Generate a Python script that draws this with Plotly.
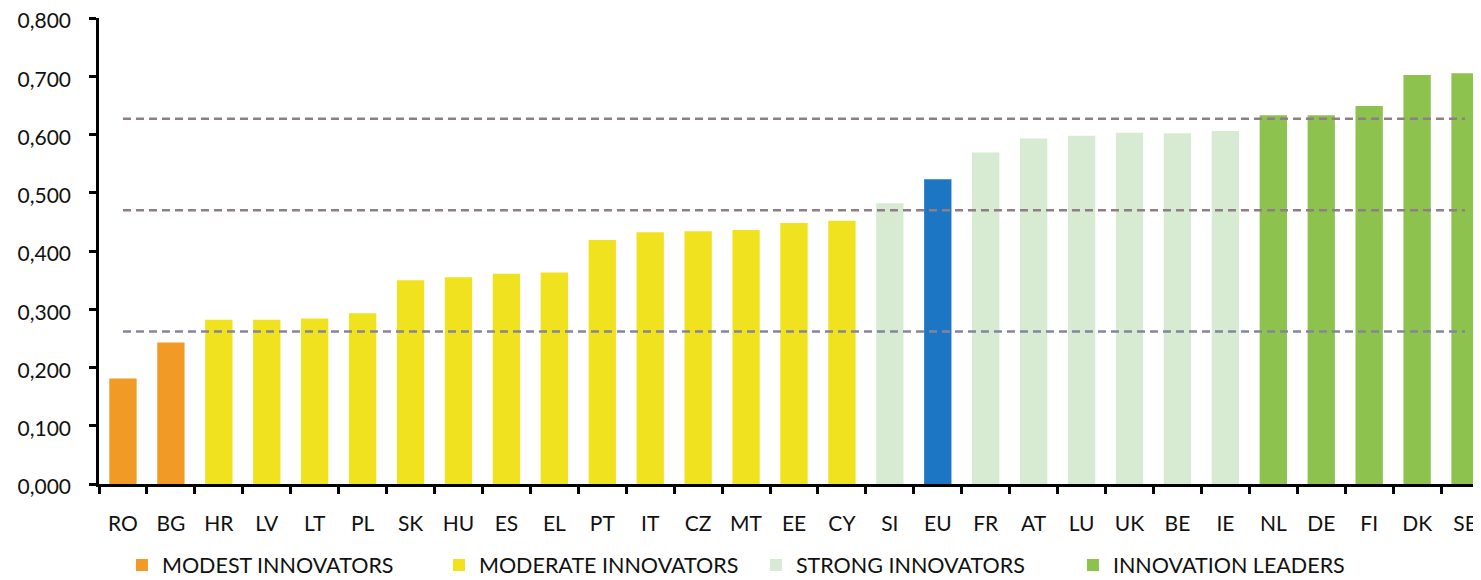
import plotly.graph_objects as go

categories = ["RO", "BG", "HR", "LV", "LT", "PL", "SK", "HU", "ES", "EL", "PT", "IT", "CZ", "MT",
              "EE", "CY", "SI", "EU", "FR", "AT", "LU", "UK", "BE", "IE", "NL", "DE", "FI", "DK", "SE"]

modest_countries = ["RO", "BG"]
modest_values = [0.181, 0.243]

moderate_countries = ["HR", "LV", "LT", "PL", "SK", "HU", "ES", "EL", "PT", "IT", "CZ", "MT", "EE", "CY"]
moderate_values = [0.282, 0.282, 0.284, 0.293, 0.350, 0.355, 0.361, 0.363, 0.419, 0.432, 0.434, 0.436, 0.448, 0.452]

strong_countries = ["SI", "FR", "AT", "LU", "UK", "BE", "IE"]
strong_values = [0.482, 0.569, 0.593, 0.598, 0.603, 0.602, 0.606]

eu_countries = ["EU"]
eu_values = [0.523]

leader_countries = ["NL", "DE", "FI", "DK", "SE"]
leader_values = [0.633, 0.633, 0.649, 0.702, 0.705]

threshold_values = [0.627, 0.470, 0.262]
threshold_colors = ["#8E7F86", "#8E7F86", "#85859A"]

group_names = ["MODEST INNOVATORS", "MODERATE INNOVATORS", "STRONG INNOVATORS", "INNOVATION LEADERS"]

FONT = "Lato"
TXT = "#111111"

fig = go.Figure()

def add_bars(x, y, color, name, show):
    fig.add_trace(go.Bar(x=x, y=y, name=name, marker=dict(color=color, line=dict(width=0)),
                         width=0.57, showlegend=show))

add_bars(modest_countries, modest_values, "#F29A26", group_names[0], True)
add_bars(moderate_countries, moderate_values, "#F0E21E", group_names[1], True)
add_bars(strong_countries, strong_values, "#D6EBD1", group_names[2], True)
add_bars(eu_countries, eu_values, "#1C76C3", "EU", False)
add_bars(leader_countries, leader_values, "#8DC24E", group_names[3], True)

for v, c in zip(threshold_values, threshold_colors):
    fig.add_trace(go.Scatter(x=[categories[0], categories[-1]], y=[v, v], mode="lines",
                             line=dict(color=c, width=2.5, dash="8px,5px"),
                             showlegend=False, hoverinfo="skip"))

# the page body has an 8px default margin; margins below compensate for it
fig.update_layout(
    width=1481, height=580,
    margin=dict(l=91, r=0, t=10, b=104),
    paper_bgcolor="white", plot_bgcolor="white",
    barmode="overlay",
    separators=",.",
    font=dict(family=FONT, size=20, color=TXT),
    showlegend=True,
    legend=dict(orientation="h", x=0.0165, xanchor="left", y=-0.174, yanchor="middle",
                font=dict(family=FONT, size=21.5, color=TXT),
                entrywidth=272, itemwidth=30, traceorder="normal",
                bgcolor="rgba(0,0,0,0)"),
    xaxis=dict(type="category", categoryorder="array", categoryarray=categories,
               range=[-0.5, 28.5], showline=True, linecolor="black", linewidth=2.5,
               ticks="outside", tickson="boundaries", ticklen=7, tickwidth=2.5, tickcolor="black",
               ticklabelstandoff=19, ticklabeloverflow="allow", automargin=False,
               showgrid=False, tickfont=dict(family=FONT, size=21, color=TXT)),
    yaxis=dict(range=[0, 0.8], dtick=0.1, tickformat=".3f", showline=True, linecolor="black",
               linewidth=2.5, ticks="outside", ticklen=7, tickwidth=2.5, tickcolor="black",
               ticklabelstandoff=14, ticklabelshift=3, ticklabeloverflow="allow", automargin=False,
               showgrid=False, zeroline=False, tickfont=dict(family=FONT, size=21, color=TXT)),
)

fig.write_html("out.html")
